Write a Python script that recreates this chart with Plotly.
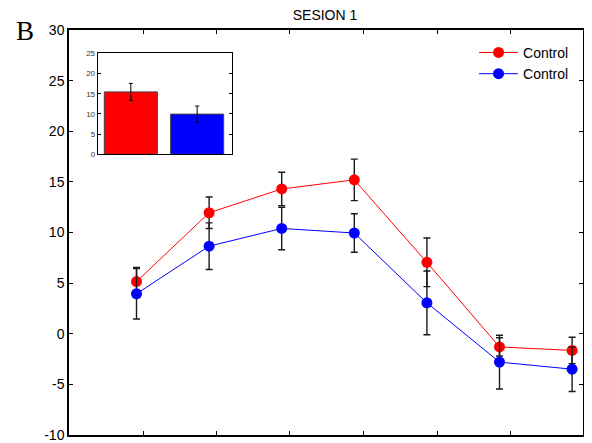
import plotly.graph_objects as go

# ---- data ----
sessions = [1, 2, 3, 4, 5, 6, 7]
red_vals = [5.15, 11.95, 14.3, 15.2, 7.05, -1.3, -1.65]
red_err = [1.4, 1.55, 1.65, 2.05, 2.4, 0.9, 1.3]
blue_vals = [3.95, 8.65, 10.4, 9.95, 3.05, -2.8, -3.5]
blue_err = [2.5, 2.3, 2.1, 1.9, 3.15, 2.65, 2.2]
series_names = ["Control", "Control"]

inset_cats = [1, 2]
inset_vals = [15.45, 9.95]
inset_err = [2.1, 2.0]

y_tickvals = [-10, -5, 0, 5, 10, 15, 20, 25, 30]
y_ticktext = ["-10", "-5", "0", "5", "10", "15", "20", "25", "30"]
inset_tickvals = [0, 5, 10, 15, 20, 25]
inset_ticktext = ["0", "5", "10", "15", "20", "25"]

RED = "#ff0000"
BLUE = "#0000ff"
FONT = "Liberation Sans, Arial, sans-serif"

# page body has an 8px margin, so the figure is 8px smaller and offset
W, H = 584, 435
L, R, T, B = 61, 9, 22, 8
PW, PH = W - L - R, H - T - B

fig = go.Figure()

for vals, errs, col, name in [(red_vals, red_err, RED, series_names[0]),
                              (blue_vals, blue_err, BLUE, series_names[1])]:
    fig.add_trace(go.Scatter(
        x=sessions, y=vals, name=name, mode="lines+markers",
        line=dict(color=col, width=1),
        marker=dict(color=col, size=11),
        error_y=dict(type="data", array=errs, visible=True,
                     color="#1a1a1a", thickness=1.4, width=3.5),
        xaxis="x", yaxis="y",
    ))

fig.add_trace(go.Bar(
    x=inset_cats, y=inset_vals, width=0.8,
    marker=dict(color=[RED, BLUE], line=dict(color="#444444", width=1)),
    error_y=dict(type="data", array=inset_err, visible=True,
                 color="black", thickness=1, width=2),
    showlegend=False, xaxis="x2", yaxis="y2",
))

axis_common = dict(showline=True, linecolor="black", mirror="ticks",
                   ticks="inside", tickcolor="black", showgrid=False,
                   zeroline=False, automargin=False)

fig.update_layout(
    width=W, height=H,
    margin=dict(l=L, r=R, t=T, b=B, autoexpand=False),
    paper_bgcolor="white", plot_bgcolor="white",
    font=dict(family=FONT, size=13, color="black"),
    title=dict(text="SESION 1", x=317 / W, xanchor="center",
               y=1 - 7 / H, yanchor="middle",
               font=dict(family=FONT, size=14, color="black")),
    xaxis=dict(range=[0.07, 7.15], domain=[0, 1],
               tickvals=[1.09, 2.1, 3.11, 4.12, 5.14, 6.15],
               ticktext=[""] * 6, ticklen=4, linewidth=1.5, **axis_common),
    yaxis=dict(range=[-10, 30], domain=[0, 1], tickvals=y_tickvals,
               ticktext=y_ticktext, ticklen=4, linewidth=1.5,
               tickfont=dict(size=14), **axis_common),
    xaxis2=dict(range=[0.5, 2.53], domain=[0.0558, 0.3177], anchor="y2",
                showticklabels=False, tickvals=[], linewidth=1, **axis_common),
    yaxis2=dict(range=[0, 25], domain=[0.693, 0.9425], anchor="x2",
                tickvals=inset_tickvals, ticktext=inset_ticktext, ticklen=3,
                linewidth=1, tickfont=dict(size=8, color="#333"),
                **axis_common),
    legend=dict(x=0.788, y=0.983, xanchor="left", yanchor="top",
                bgcolor="rgba(0,0,0,0)", font=dict(size=14),
                borderwidth=0, itemwidth=39),
    showlegend=True,
)

fig.add_annotation(text="B", xref="paper", yref="paper", x=(6 - L) / PW,
                   y=1 + (T - 22.7) / PH, xanchor="left", yanchor="middle",
                   showarrow=False,
                   font=dict(family="Liberation Serif, Times New Roman, serif",
                             size=27, color="black"))

fig.write_html("out.html")
